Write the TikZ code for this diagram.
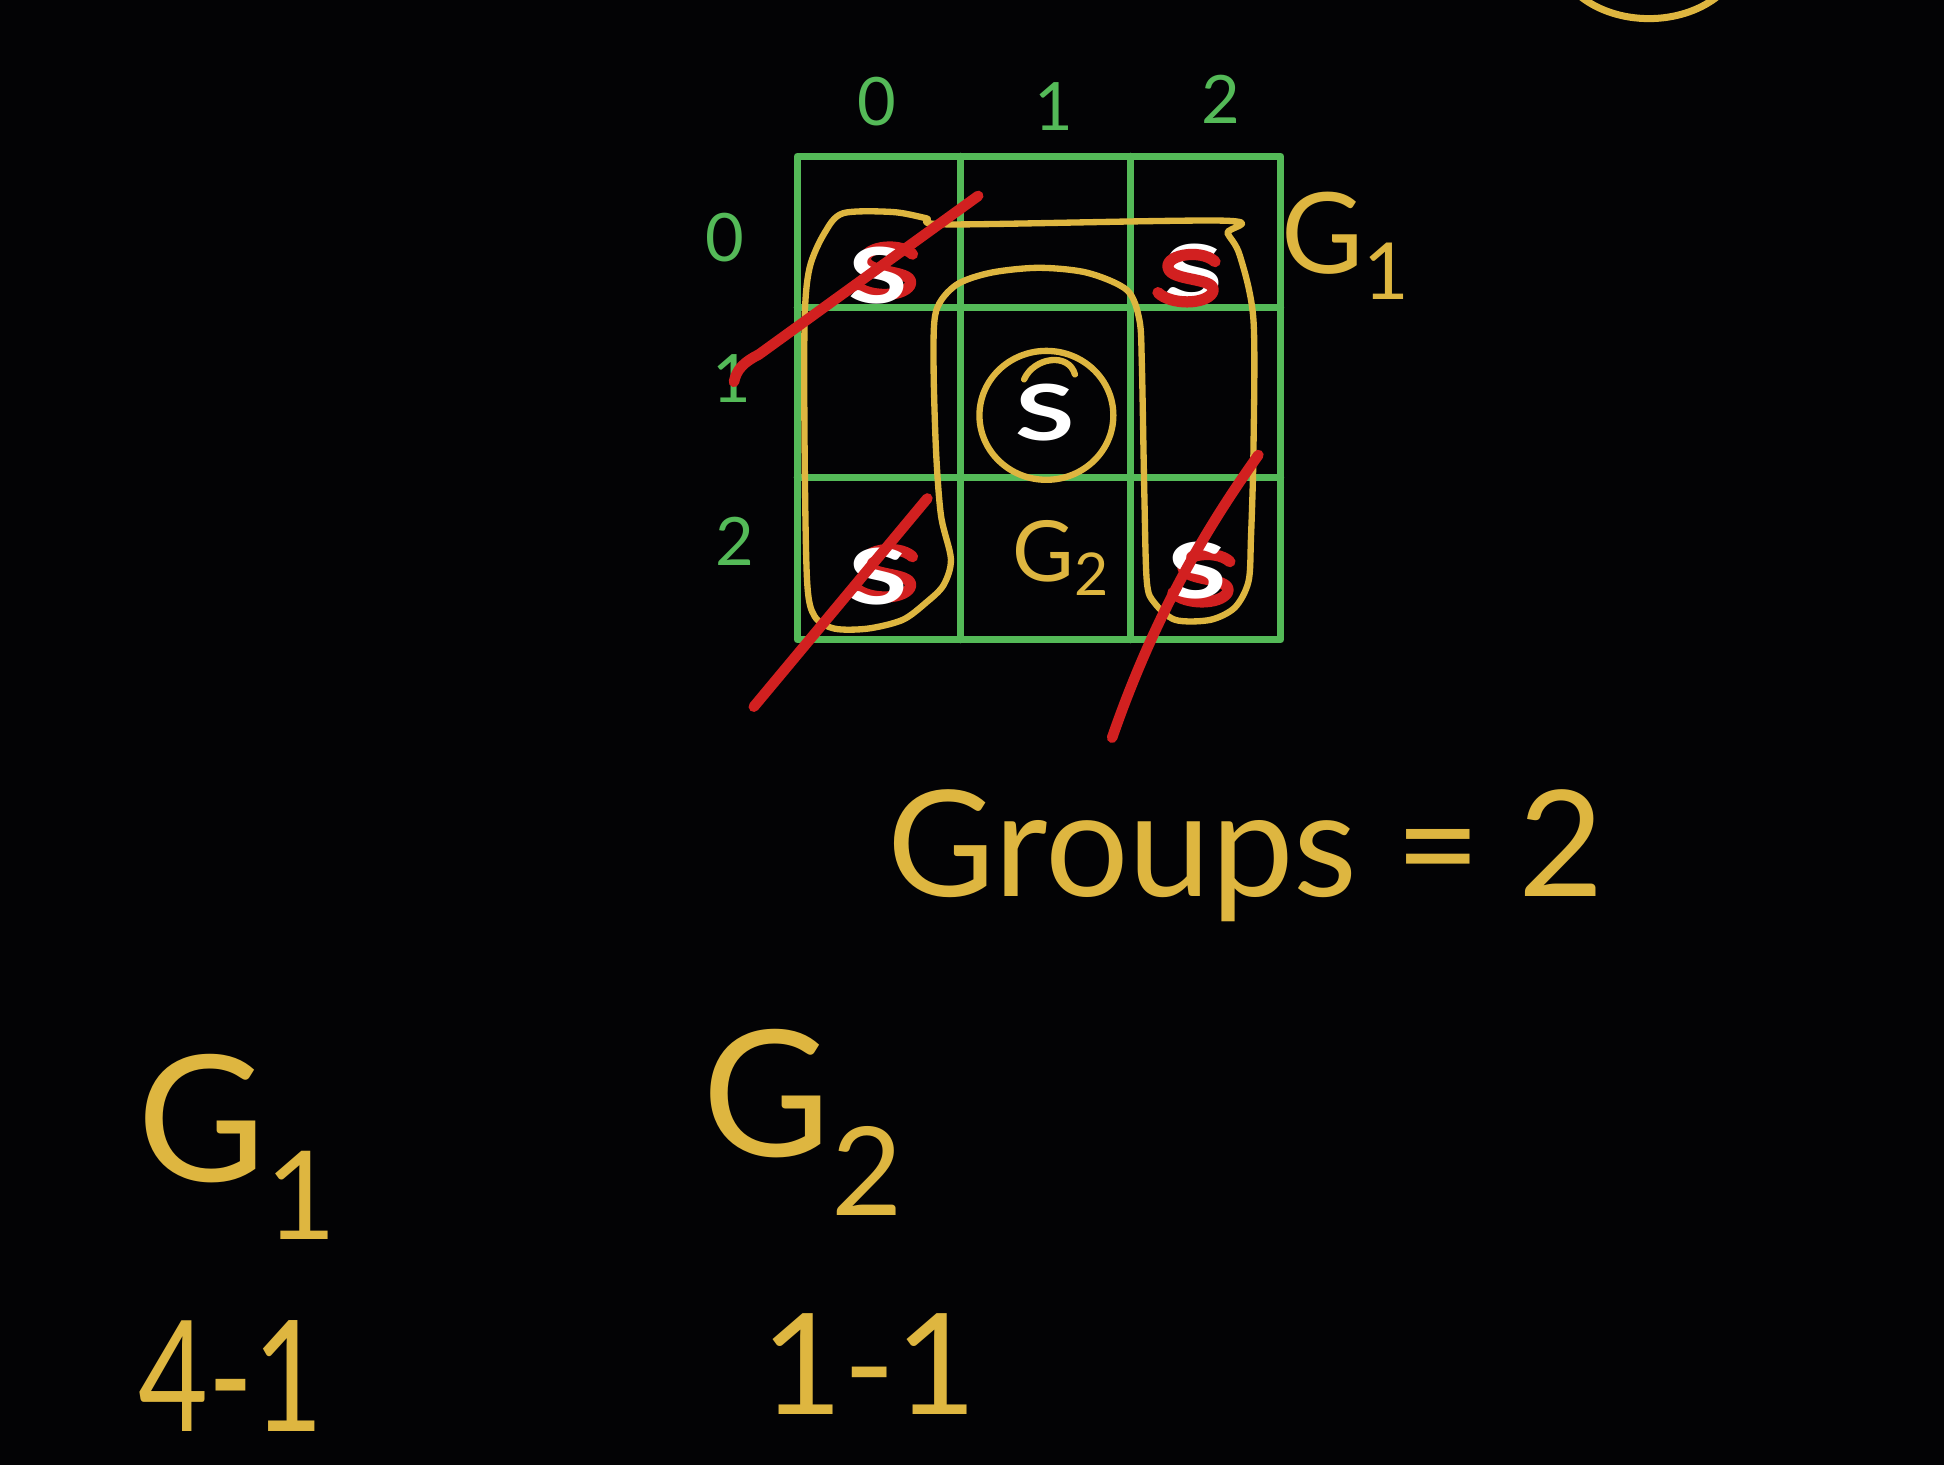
\documentclass[tikz,border=0pt]{standalone}
\usepackage{fontspec}
\setmainfont{Lato}
\usepackage{graphicx}
\definecolor{bgblack}{RGB}{3,3,5}
\definecolor{gridgreen}{RGB}{84,186,88}
\definecolor{penyellow}{RGB}{222,182,64}
\definecolor{penred}{RGB}{210,32,32}
\begin{document}
\begin{tikzpicture}[x=0.012398cm,y=-0.012398cm,line cap=round,line join=round,
  gridline/.style={draw=gridgreen,line width=2pt},
  loopline/.style={draw=penyellow,line width=1.8pt},
  strike/.style={draw=penred,line width=3pt},
  axislabel/.style={text=gridgreen,inner sep=0,font=\fontsize{19}{19}\selectfont},
  ink/.style={text=penyellow,inner sep=0},
  sletter/.style={text=white,inner sep=0,font=\fontsize{22}{22}\selectfont\bfseries},
  pics/redscrib/.style={code={
    \draw[penred,line width=3.2pt]
      (22,-13) .. controls (10,-24) and (-22,-18) .. (-15,-6)
      .. controls (-9,3) and (25,0) .. (20,12)
      .. controls (14,22) and (-14,22) .. (-24,12);
  }}]
\fill[bgblack] (0,0) rectangle (1568,1182);
\useasboundingbox (0,0) rectangle (1568,1182);
\begin{scope}
\clip (0,0) rectangle (1568,1182);
\draw[loopline,line width=2pt] (1330,-42) ellipse [x radius=76, y radius=57];
\end{scope}
% grid
\draw[gridline] (643,126) rectangle (1033,516);
\draw[gridline] (775,126) -- (775,516);
\draw[gridline] (912,126) -- (912,516);
\draw[gridline] (643,248) -- (1033,248);
\draw[gridline] (643,385) -- (1033,385);
% axis labels
\node[axislabel] (c0) at (707,82) {0};
\node[axislabel] (c1) at (850,86) {1};
\node[axislabel] (c2) at (985,80) {2};
\node[axislabel] (r0) at (585,192) {0};
\node[axislabel] (r1) at (590,305) {1};
\node[axislabel] (r2) at (593,437) {2};
% S letters with red scribbles
\pic at (714,218) {redscrib};
\node[sletter] (s00) at (708,222) {\scalebox{1.4}[1]{S}};
\node[sletter] (s02) at (962,220) {\scalebox{1.4}[1]{S}};
\pic at (958,224) {redscrib};
\node[sletter] (s11) at (843,333) {\scalebox{1.4}[1]{S}};
\pic at (714,462) {redscrib};
\node[sletter] (s20) at (708,465) {\scalebox{1.4}[1]{S}};
\pic at (970,466) {redscrib};
\node[sletter] (s22) at (966,460) {\scalebox{1.4}[1]{S}};
% G1 loop
\draw[loopline] plot[smooth cycle,tension=0.5] coordinates {
 (680,172) (720,171) (747,176) (767,181) (988,178) (990,188) (1000,206)
 (1011,258) (1011,364) (1009,434) (1007,469) (996,490) (976,500) (948,500)
 (931,486) (925,469) (923,399) (921,294) (919,258) (909,234) (877,220)
 (838,216) (799,220) (771,230) (755,251) (753,294) (755,364) (759,416)
 (767,451) (761,472) (747,486) (728,500) (700,507) (673,507) (657,497)
 (651,469) (649,364) (649,258) (653,216) (665,188)};
% G2 circle
\draw[loopline] (844,335) ellipse [x radius=54, y radius=52];
\draw[loopline] (826,306) .. controls (834,288) and (862,284) .. (867,302);
% strikes
\draw[strike] (592,308) .. controls (594,298) and (600,292) .. (612,286) -- (789,158);
\draw[strike] (608,570) -- (748,402);
\draw[strike] (897,595) .. controls (930,500) and (970,430) .. (1015,367);
% labels
\node[ink,font=\fontsize{32}{32}\selectfont] (g1grid) at (1086,198) {G\textsubscript{1}};
\node[ink,font=\fontsize{24}{24}\selectfont] (g2grid) at (856,450) {G\textsubscript{2}};
\node[ink,font=\fontsize{42}{42}\selectfont] (groups) at (1005,690) {Groups = 2};
\node[ink,font=\fontsize{50}{50}\selectfont] (g1) at (192,925) {G\textsubscript{1}};
\node[ink,font=\fontsize{50}{50}\selectfont] (g2) at (648,905) {G\textsubscript{2}};
\node[ink,font=\fontsize{44}{44}\selectfont] (v1) at (186,1110) {\scalebox{0.78}[1]{4-1}};
\node[ink,font=\fontsize{40}{40}\selectfont] (v2) at (701,1100) {1-1};
\end{tikzpicture}
\end{document}
